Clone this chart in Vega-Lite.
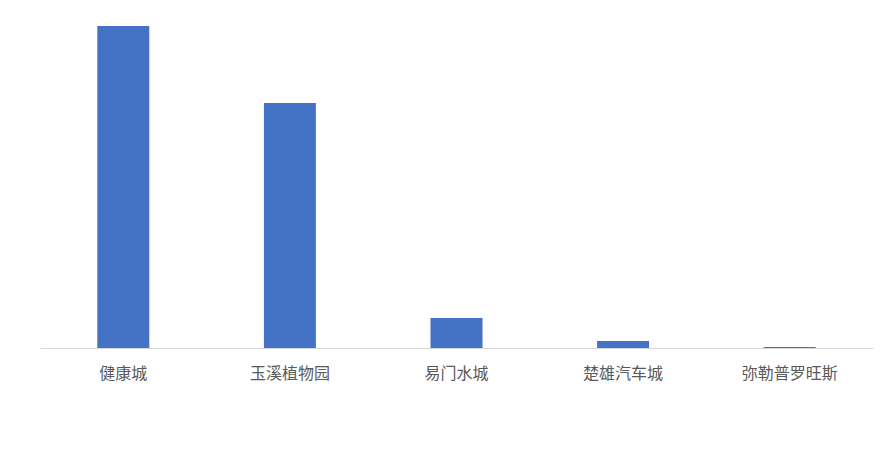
{
  "$schema": "https://vega.github.io/schema/vega-lite/v6.json",
  "width": 833,
  "height": 348,
  "autosize": {"type": "none"},
  "padding": {"left": 40, "top": 0, "right": 16, "bottom": 107},
  "background": "white",
  "config": {"view": {"stroke": null}},
  "data": {
    "values": [
      {"place": "健康城", "value": 322},
      {"place": "玉溪植物园", "value": 245},
      {"place": "易门水城", "value": 30},
      {"place": "楚雄汽车城", "value": 7},
      {"place": "弥勒普罗旺斯", "value": 1}
    ]
  },
  "mark": {"type": "bar", "color": "#4472c4"},
  "encoding": {
    "x": {
      "field": "place",
      "type": "nominal",
      "sort": null,
      "title": null,
      "scale": {"paddingInner": 0.688, "paddingOuter": 0.344},
      "axis": {
        "labelAngle": 0,
        "ticks": false,
        "domainColor": "#d9d9d9",
        "labelFont": "Noto Sans CJK SC",
        "labelFontSize": 16,
        "labelColor": "#595959",
        "labelPadding": 17
      }
    },
    "y": {
      "field": "value",
      "type": "quantitative",
      "scale": {"domain": [0, 348], "nice": false},
      "axis": null
    }
  }
}
